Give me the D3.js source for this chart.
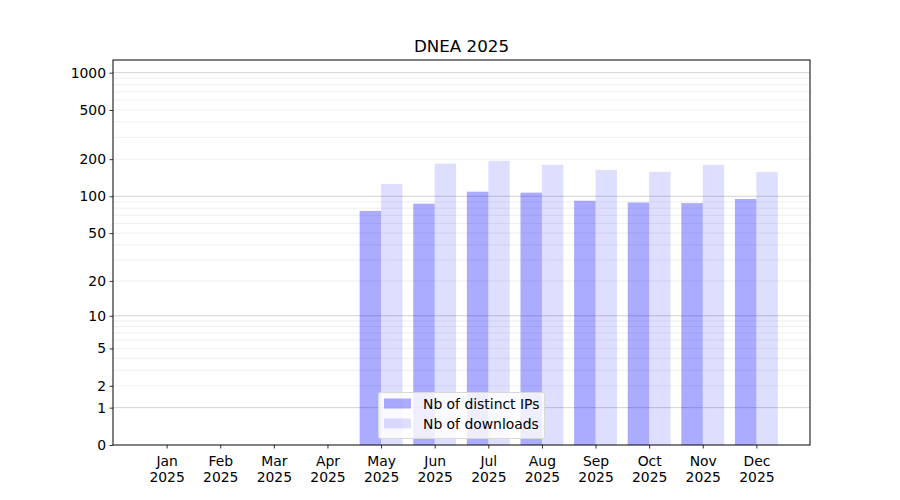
<!DOCTYPE html>
<html lang="en">
<head>
    <meta charset="UTF-8">
    <title>DNEA 2025</title>
    <script src="https://d3js.org/d3.v7.min.js"></script>
    <style>
        body { margin: 0; background: white; }
        text { font-family: 'DejaVu Sans', sans-serif; fill: #000; }
    </style>
</head>
<body>
<script>

    const months = ['Jan','Feb','Mar','Apr','May','Jun','Jul','Aug','Sep','Oct','Nov','Dec'];
    const year = '2025';
    const distinctIPs = [0,0,0,0,76,87,109,107,92,89,88,95];
    const downloads = [0,0,0,0,126,184,194,180,164,158,180,158];
    const yTicks = [0,1,2,5,10,20,50,100,200,500,1000];
    const majorGrid = [1,10,100,1000];
    const minorGrid = [2,3,4,5,6,7,8,9,20,30,40,50,60,70,80,90,200,300,400,500,600,700,800,900];

    const width = 900, height = 500;
    const margin = {top: 60, right: 90, bottom: 55, left: 113};

    const svg = d3.select("body").append("svg").attr("width", width).attr("height", height);

    const x = d3.scaleLinear().domain([-1, 12]).range([margin.left, width - margin.right]);
    const y = d3.scaleSymlog().constant(1).domain([0, 1265]).range([height - margin.bottom, margin.top]);

    // grid
    svg.append("g").selectAll("line.minor").data(minorGrid).enter().append("line")
        .attr("x1", margin.left).attr("x2", width - margin.right)
        .attr("y1", d => y(d)).attr("y2", d => y(d))
        .attr("stroke", "#ebebeb").attr("stroke-width", 0.8);
    svg.append("g").selectAll("line.major").data(majorGrid).enter().append("line")
        .attr("x1", margin.left).attr("x2", width - margin.right)
        .attr("y1", d => y(d)).attr("y2", d => y(d))
        .attr("stroke", "#c8c8c8").attr("stroke-width", 0.8);

    const bw = 0.4;
    svg.append("g").selectAll("rect.ip").data(distinctIPs).enter().append("rect")
        .attr("x", (d, i) => x(i - bw)).attr("width", x(bw) - x(0))
        .attr("y", d => y(d)).attr("height", d => y(0) - y(d))
        .attr("fill", "blue").attr("fill-opacity", 0.33);
    svg.append("g").selectAll("rect.dl").data(downloads).enter().append("rect")
        .attr("x", (d, i) => x(i)).attr("width", x(bw) - x(0))
        .attr("y", d => y(d)).attr("height", d => y(0) - y(d))
        .attr("fill", "blue").attr("fill-opacity", 0.13);

    // axes
    const yAxis = d3.axisLeft(y).tickValues(yTicks).tickFormat(d3.format("d")).tickSize(3.5).tickPadding(3.5);
    const gy = svg.append("g").attr("transform", `translate(${margin.left},0)`).call(yAxis);
    gy.select(".domain").remove();
    gy.selectAll("text").style("font-size", "13.9px").style("font-family", "'DejaVu Sans', sans-serif");
    gy.selectAll("line").attr("stroke", "#000").attr("stroke-width", 0.8);

    const xAxis = d3.axisBottom(x).tickValues(d3.range(12)).tickFormat("").tickSize(3.5);
    const gx = svg.append("g").attr("transform", `translate(0,${height - margin.bottom})`).call(xAxis);
    gx.select(".domain").remove();
    gx.selectAll("line").attr("stroke", "#000").attr("stroke-width", 0.8);
    gx.selectAll(".tick").each(function(d) {
        const t = d3.select(this).append("text").attr("text-anchor", "middle").style("font-size", "13.9px");
        t.append("tspan").attr("x", 0).attr("y", 21).text(months[d]);
        t.append("tspan").attr("x", 0).attr("y", 37).text(year);
    });

    svg.append("rect")
        .attr("x", margin.left).attr("y", margin.top)
        .attr("width", width - margin.left - margin.right)
        .attr("height", height - margin.top - margin.bottom)
        .attr("fill", "none").attr("stroke", "#000").attr("stroke-width", 1);

    svg.append("text").attr("x", (margin.left + width - margin.right) / 2).attr("y", 52)
        .attr("text-anchor", "middle").style("font-size", "16.7px").text("DNEA " + year);

    // legend
    const lg = svg.append("g").attr("transform", "translate(378.5,392.5)");
    lg.append("rect").attr("width", 166).attr("height", 46).attr("rx", 2)
        .attr("fill", "white").attr("fill-opacity", 0.8).attr("stroke", "#d9d9d9");
    const items = [["Nb of distinct IPs", 0.33], ["Nb of downloads", 0.13]];
    items.forEach((it, i) => {
        lg.append("rect").attr("x", 5.5).attr("y", 6 + i * 20).attr("width", 27).attr("height", 10)
            .attr("fill", "blue").attr("fill-opacity", it[1]);
        lg.append("text").attr("x", 44.5).attr("y", 16 + i * 20).style("font-size", "13.9px").text(it[0]);
    });
</script>
</body>
</html>
